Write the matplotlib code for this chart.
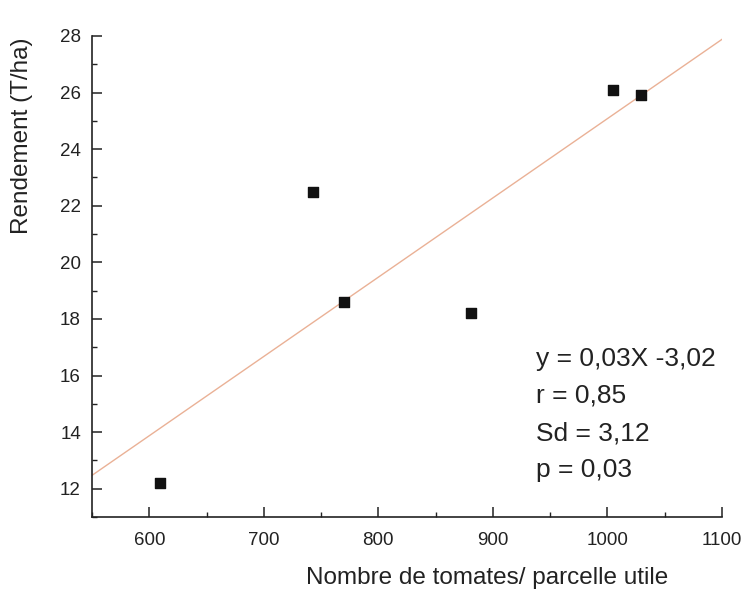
import numpy as np
import matplotlib
matplotlib.use("Agg")
from matplotlib import pyplot as plt
from matplotlib.ticker import MultipleLocator

plt.rcParams['font.family'] = ['Liberation Sans', 'DejaVu Sans']

# Donnees
nb_tomates = [609, 743, 770, 881, 1005, 1029]
rendement = [12.2, 22.5, 18.6, 18.2, 26.1, 25.9]
stats_texte = ["y = 0,03X -3,02", "r = 0,85", "Sd = 3,12", "p = 0,03"]

fig = plt.figure(figsize=(7.5, 5.94), dpi=100)
ax = fig.add_axes([92 / 750, 77 / 594, 630 / 750, 481 / 594])

# droite de regression
pente, ordonnee = np.polyfit(nb_tomates, rendement, 1)
xs = np.array([550, 1100])
ax.plot(xs, pente * xs + ordonnee, color='#eab196', lw=1.0, zorder=1)

ax.scatter(nb_tomates, rendement, marker='s', s=42, color='#111111', zorder=3)

ax.set_xlim(550, 1100)
ax.set_ylim(11, 28)
ax.xaxis.set_major_locator(MultipleLocator(100))
ax.xaxis.set_minor_locator(MultipleLocator(50))
ax.yaxis.set_major_locator(MultipleLocator(2))
ax.yaxis.set_minor_locator(MultipleLocator(1))

for s in ['top', 'right']:
    ax.spines[s].set_visible(False)
for s in ['left', 'bottom']:
    ax.spines[s].set_linewidth(1.2)
    ax.spines[s].set_color('#222222')

ax.tick_params(which='major', direction='in', length=7, width=1.1, labelsize=13.5, colors='#222222')
ax.tick_params(axis='x', which='major', pad=11)
ax.tick_params(axis='y', which='major', pad=8)
ax.tick_params(which='minor', direction='in', length=3.5, width=1.0, colors='#222222')

ax.set_xlabel("Nombre de tomates/ parcelle utile", fontsize=17.5, color='#222222')
ax.set_ylabel("Rendement (T/ha)", fontsize=17.5, color='#222222')
ax.xaxis.set_label_coords(0.627, -0.127)
ax.yaxis.set_label_coords(-0.111, 0.792)
ax.xaxis.label.set_va('center')
ax.yaxis.label.set_va('center')

for i, t in enumerate(stats_texte):
    fig.text(536 / 750, 1 - (366 + i * 37) / 594, t, fontsize=19, color='#222222',
             ha='left', va='baseline')

fig.savefig("out.png", dpi=100)
